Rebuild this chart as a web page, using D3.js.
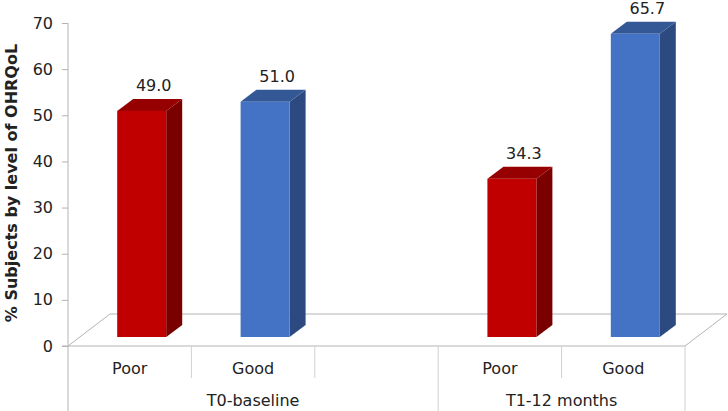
<!DOCTYPE html>
<html>
<head>
<meta charset="utf-8">
<script src="https://cdn.jsdelivr.net/npm/d3@7"></script>
<style>
  body { margin: 0; background: #fff; }
  svg text { font-family: "DejaVu Sans", Verdana, sans-serif; fill: #222; }
  .tick text { font-size: 16px; }
</style>
</head>
<body>
<svg width="728" height="411"></svg>
<script>
// data
const groups = ["T0-baseline", "T1-12 months"];
const levels = ["Poor", "Good"];
const poorValues = [49.0, 34.3];
const goodValues = [51.0, 65.7];
const slots = ["T0|Poor", "T0|Good", "T0|gap", "T1|Poor", "T1|Good"];
const yTicks = [0, 10, 20, 30, 40, 50, 60, 70];

const bars = [
  {slot: "T0|Poor", level: "Poor", value: poorValues[0]},
  {slot: "T0|Good", level: "Good", value: goodValues[0]},
  {slot: "T1|Poor", level: "Poor", value: poorValues[1]},
  {slot: "T1|Good", level: "Good", value: goodValues[1]}
];

const colors = {
  Poor: {front: "#c00000", side: "#7a0000", top: "#960000"},
  Good: {front: "#4472c4", side: "#2c4a80", top: "#345896"}
};

const svg = d3.select("svg");
const axisColor = "#b4b4b4";

const x = d3.scaleBand().domain(slots).range([68, 685]).padding(0);
const y = d3.scaleLinear().domain([0, 70]).range([346, 23]);

// 3d offsets
const floorDx = 42, floorDy = -32;
const barShiftX = 12, barShiftY = -9;
const depthDx = 16, depthDy = -12;
const barW = 49;

// floor
const floor = svg.append("g").attr("stroke", axisColor).attr("fill", "none");
floor.append("line").attr("x1", 62).attr("x2", x.range()[1]).attr("y1", y(0)).attr("y2", y(0));
floor.append("line").attr("x1", 68 + floorDx).attr("x2", x.range()[1] + floorDx)
  .attr("y1", y(0) + floorDy).attr("y2", y(0) + floorDy);
floor.append("line").attr("x1", 68).attr("y1", y(0)).attr("x2", 68 + floorDx).attr("y2", y(0) + floorDy);
floor.append("line").attr("x1", x.range()[1]).attr("y1", y(0))
  .attr("x2", x.range()[1] + floorDx).attr("y2", y(0) + floorDy);

// y axis
const yAxis = svg.append("g")
  .attr("transform", "translate(68,0)")
  .call(d3.axisLeft(y).tickValues(yTicks).tickSize(6).tickPadding(9));
yAxis.select(".domain").remove();
yAxis.selectAll(".tick line").attr("stroke", axisColor);
yAxis.selectAll(".tick text").attr("fill", "#222");
svg.append("line").attr("x1", 68).attr("x2", 68).attr("y1", y(70)).attr("y2", 411)
  .attr("stroke", axisColor);

// category dividers
const dividers = svg.append("g").attr("stroke", "#d0d0d0");
slots.forEach((s, i) => {
  if (i === 0) return;
  const full = s.endsWith("Poor");
  dividers.append("line").attr("x1", x(s)).attr("x2", x(s))
    .attr("y1", y(0)).attr("y2", full ? 411 : 378);
});
dividers.append("line").attr("x1", x.range()[1]).attr("x2", x.range()[1])
  .attr("y1", y(0)).attr("y2", 411);

// sub-category labels
svg.append("g").selectAll("text")
  .data(slots.filter(s => !s.endsWith("gap")))
  .enter().append("text")
  .attr("x", d => x(d) + x.bandwidth() / 2)
  .attr("y", 374)
  .attr("text-anchor", "middle")
  .attr("font-size", 16)
  .text(d => d.split("|")[1]);

// group labels
const groupSpans = [[x("T0|Poor"), x("T1|Poor")], [x("T1|Poor"), x.range()[1]]];
svg.append("g").selectAll("text")
  .data(groups)
  .enter().append("text")
  .attr("x", (d, i) => (groupSpans[i][0] + groupSpans[i][1]) / 2)
  .attr("y", 406)
  .attr("text-anchor", "middle")
  .attr("font-size", 16)
  .text(d => d);

// bars
const barG = svg.append("g").selectAll("g").data(bars).enter().append("g");
const fx = d => x(d.slot) + x.bandwidth() / 2 + barShiftX - barW / 2;
const base = y(0) + barShiftY;
const topY = d => y(d.value) + barShiftY;

barG.append("path")
  .attr("fill", d => colors[d.level].side)
  .attr("d", d => {
    const r = fx(d) + barW;
    return `M${r},${base}L${r},${topY(d)}L${r + depthDx},${topY(d) + depthDy}L${r + depthDx},${base + depthDy}Z`;
  });
barG.append("path")
  .attr("fill", d => colors[d.level].top)
  .attr("d", d => {
    const l = fx(d), t = topY(d);
    return `M${l},${t}L${l + depthDx},${t + depthDy}L${l + barW + depthDx},${t + depthDy}L${l + barW},${t}Z`;
  });
barG.append("rect")
  .attr("fill", d => colors[d.level].front)
  .attr("x", d => fx(d))
  .attr("y", d => topY(d))
  .attr("width", barW)
  .attr("height", d => base - topY(d));

// value labels
barG.append("text")
  .attr("x", d => fx(d) + barW / 2 + 12)
  .attr("y", d => topY(d) - 20)
  .attr("text-anchor", "middle")
  .attr("font-size", 16)
  .text(d => d.value.toFixed(1));

// y axis title
svg.append("text")
  .attr("transform", "translate(17,183) rotate(-90)")
  .attr("text-anchor", "middle")
  .attr("font-size", 16)
  .attr("font-weight", "bold")
  .text("% Subjects by level of OHRQoL");
</script>
</body>
</html>
